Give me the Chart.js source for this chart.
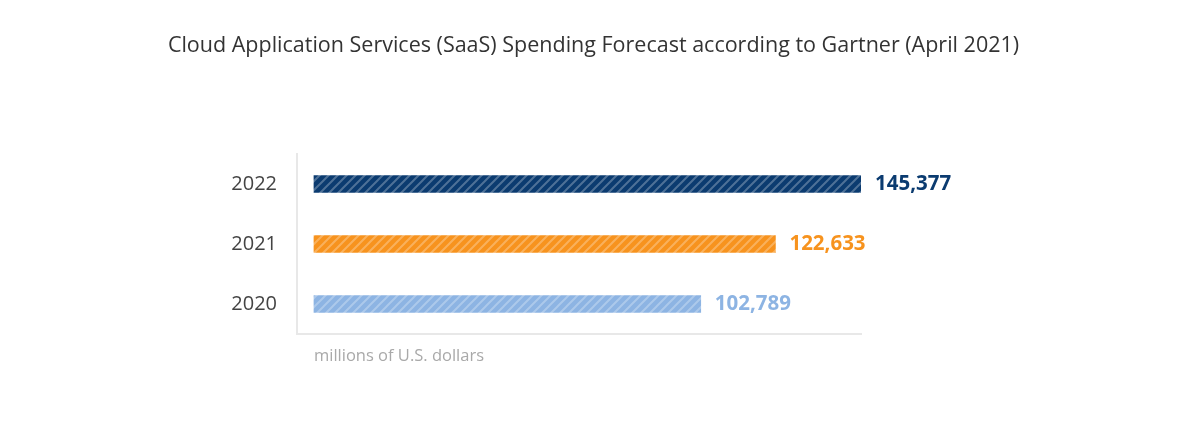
<!DOCTYPE html>
<html>
<head>
<meta charset="utf-8">
<script src="https://cdn.jsdelivr.net/npm/chart.js@4.4.0/dist/chart.umd.min.js"></script>
<style>
  html, body { margin: 0; padding: 0; background: #fff; }
  #wrap { width: 1187px; height: 435px; }
</style>
</head>
<body>
<div id="wrap"><canvas id="saasChart"></canvas></div>
<script>
var years = ["2022", "2021", "2020"];
var spending = [145377, 122633, 102789];
var barColors = ["#0b3b70", "#f7931e", "#8db4e3"];
var unitNote = "millions of U.S. dollars";
var chartTitle = "Cloud Application Services (SaaS) Spending Forecast according to Gartner (April 2021)";

// diagonal hatch like the original
function hatch(color) {
	var c = document.createElement('canvas');
	c.width = 9; c.height = 9;
	var g = c.getContext('2d');
	g.fillStyle = color;
	g.fillRect(0, 0, 9, 9);
	g.strokeStyle = 'rgba(255,255,255,0.28)';
	g.lineWidth = 2;
	g.beginPath();
	g.moveTo(-1, 10); g.lineTo(10, -1);
	g.moveTo(-10, 10); g.lineTo(1, -1);
	g.moveTo(8, 10); g.lineTo(19, -1);
	g.stroke();
	return g.createPattern(c, 'repeat');
}

var extraText = {
	id: 'extraText',
	afterDatasetsDraw: function(chart) {
		var ctx = chart.ctx;
		var meta = chart.getDatasetMeta(0);
		ctx.save();
		ctx.font = 'bold 20.5px "Open Sans"';
		ctx.textBaseline = 'middle';
		ctx.textAlign = 'left';
		meta.data.forEach(function(bar, i) {
			ctx.fillStyle = barColors[i];
			ctx.fillText(spending[i].toLocaleString('en-US'), bar.x + 14, bar.y);
		});
		// unit note under the axis
		ctx.font = '16.5px "Open Sans"';
		ctx.fillStyle = '#a9a9a9';
		ctx.fillText(unitNote, chart.scales.x.getPixelForValue(0), chart.chartArea.bottom + 22);
		// title centred on the whole page
		ctx.font = '21.5px "Open Sans"';
		ctx.fillStyle = '#333';
		ctx.textAlign = 'center';
		ctx.fillText(chartTitle, chart.width / 2, 46);
		ctx.restore();
	}
};

function buildChart() {
	var ctx = document.getElementById('saasChart').getContext('2d');
	var maxVal = Math.max.apply(null, spending);
	var chart = new Chart(ctx, {
		type: 'bar',
		data: {
			labels: years,
			datasets: [{
				data: spending,
				backgroundColor: barColors.map(hatch),
				barThickness: 17,
				borderWidth: 0
			}]
		},
		options: {
			indexAxis: 'y',
			responsive: false,
			animation: false,
			layout: { padding: { left: 0, right: 326, top: 154, bottom: 101 } },
			plugins: {
				legend: { display: false },
				tooltip: { enabled: false },
				title: { display: false }
			},
			scales: {
				x: {
					min: -maxVal * 0.031,
					max: maxVal,
					ticks: { display: false },
					grid: { display: false, drawTicks: false },
					border: { display: true, color: '#e8e8e8', width: 2 },
					afterFit: function(s) { s.height = 0; }
				},
				y: {
					ticks: {
						color: '#444',
						font: { family: 'Open Sans', size: 20 },
						padding: 20
					},
					grid: { display: false, drawTicks: false },
					border: { display: true, color: '#e8e8e8', width: 2 },
					afterFit: function(s) { s.width = 297; }
				}
			}
		},
		plugins: [extraText]
	});
}

document.getElementById('saasChart').width = 1187;
document.getElementById('saasChart').height = 435;
buildChart();
</script>
</body>
</html>
